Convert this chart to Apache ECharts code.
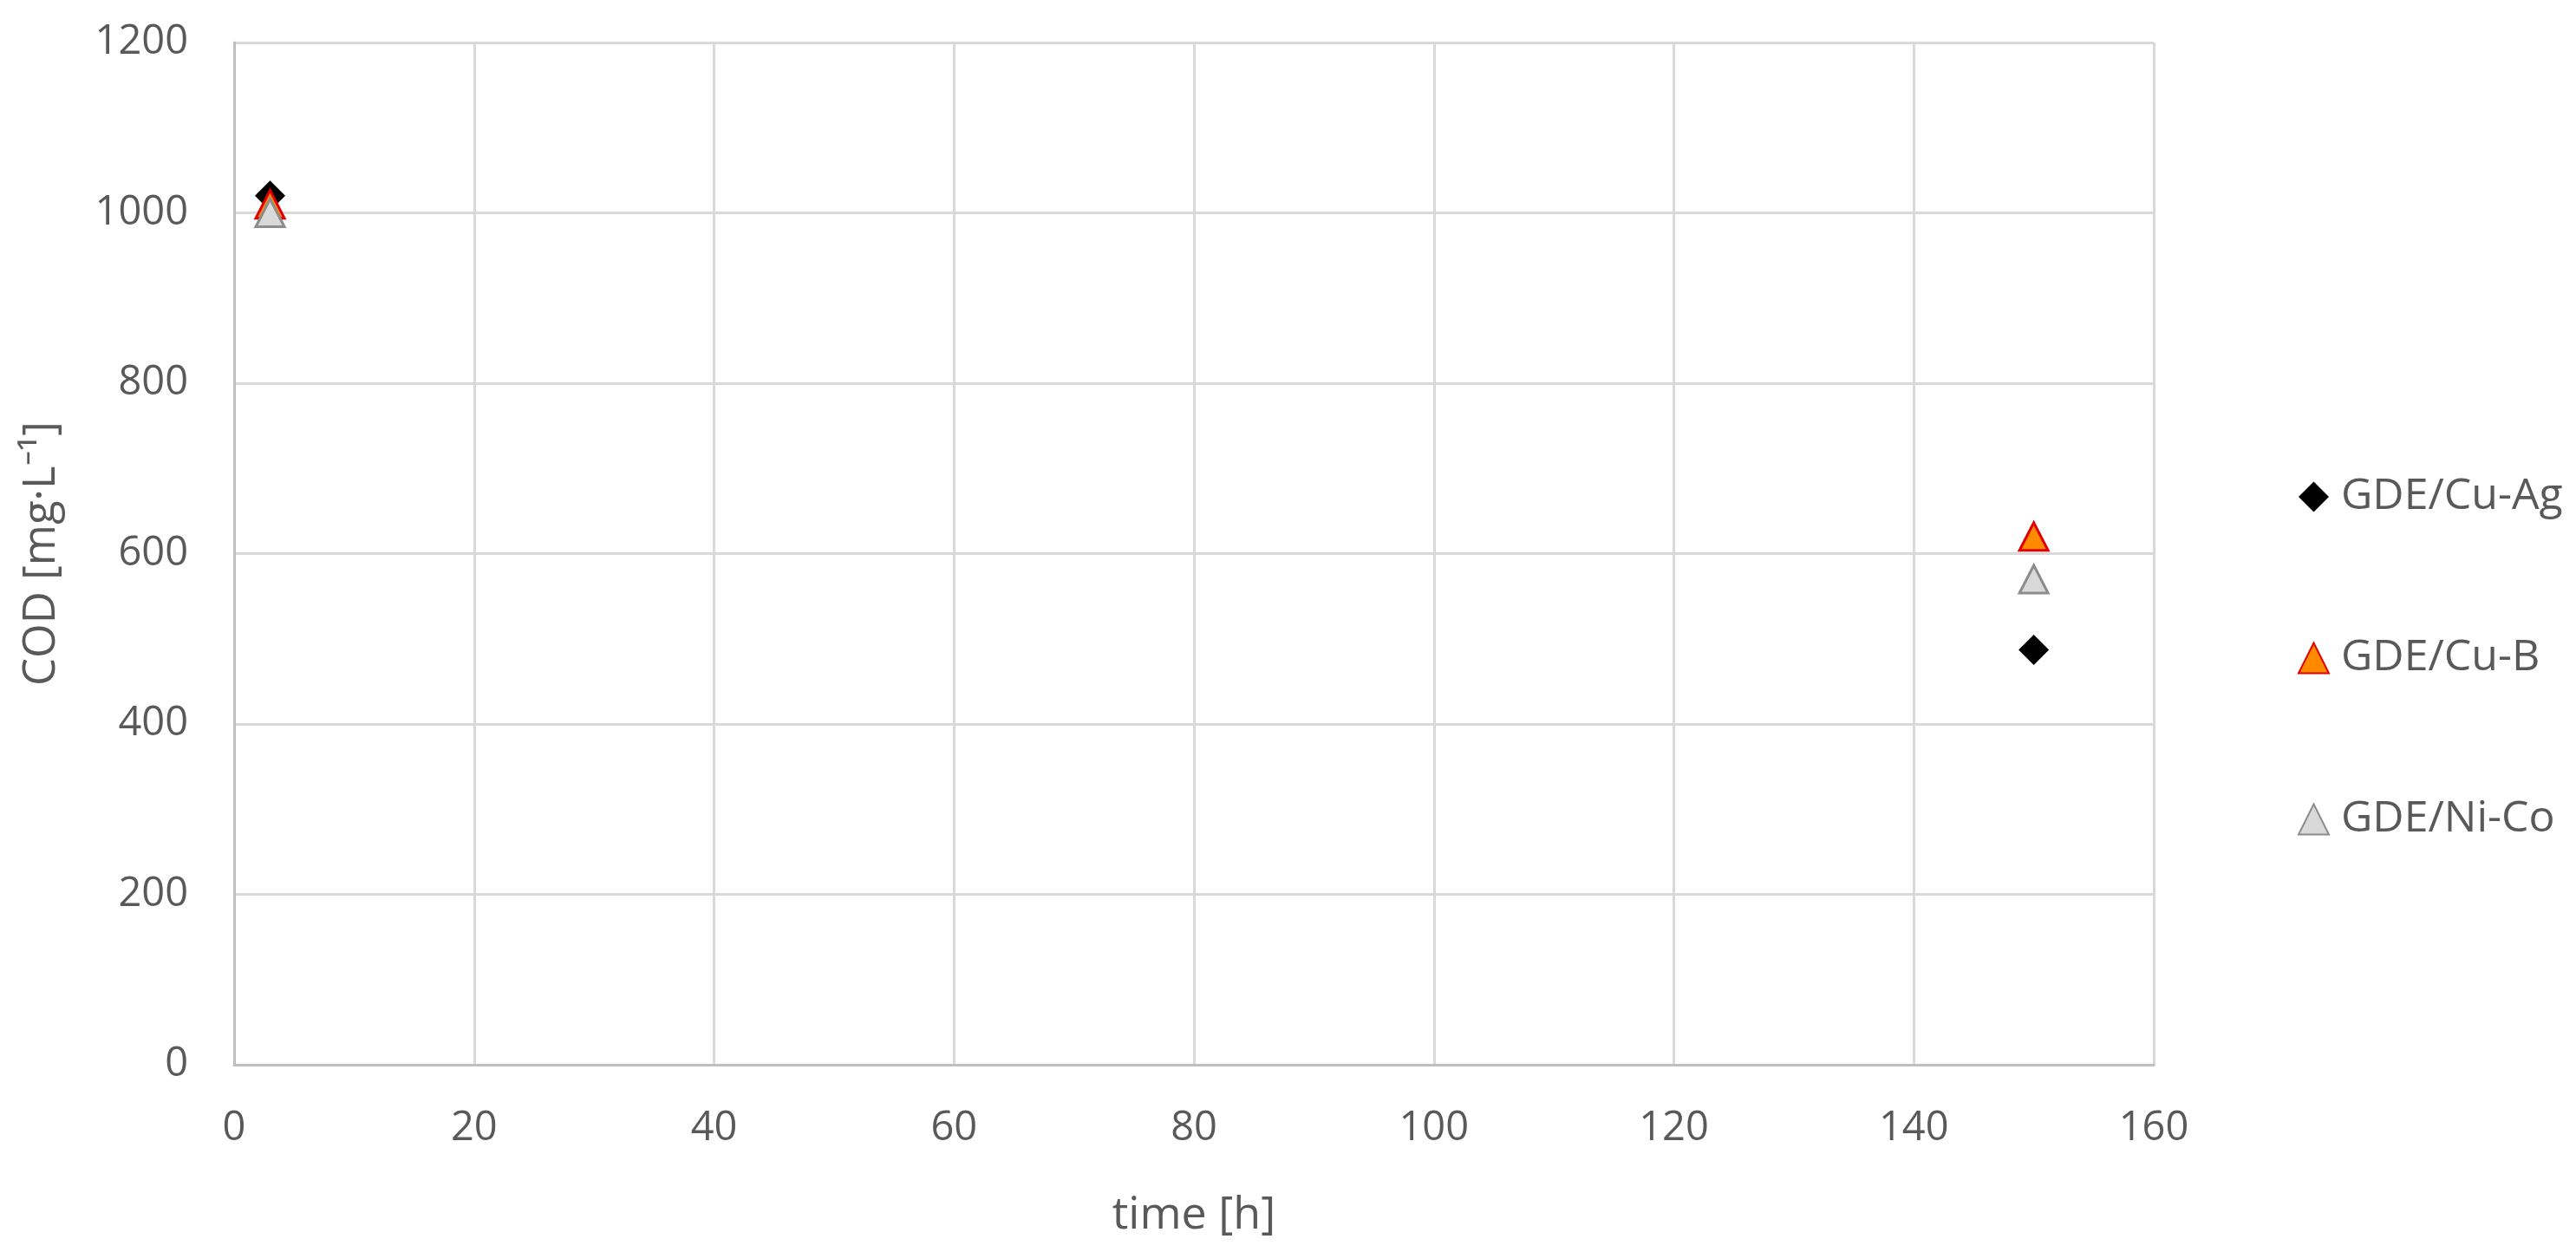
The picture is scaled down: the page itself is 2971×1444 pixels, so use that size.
<!DOCTYPE html>
<html>
<head>
<meta charset="utf-8">
<script src="https://cdn.jsdelivr.net/npm/echarts@6/dist/echarts.min.js"></script>
<style>
  html, body { margin: 0; padding: 0; background: #fff; }
  #main { width: 2971px; height: 1444px; }
</style>
</head>
<body>
<div id="main"></div>
<script>
  // data
  var timeH = [3, 150];
  var cuAg = [1020, 487];
  var cuB = [1010, 620];
  var niCo = [1000, 570];
  var xTicks = [0, 20, 40, 60, 80, 100, 120, 140, 160];
  var yTicks = [0, 200, 400, 600, 800, 1000, 1200];

  function pairs(ys) {
    var out = [];
    for (var i = 0; i < timeH.length; i++) out.push([timeH[i], ys[i]]);
    return out;
  }

  var txt = '#595959';
  var font = 'Open Sans';

  var chart = echarts.init(document.getElementById('main'));
  var option = {
    backgroundColor: '#fff',
    animation: false,
    textStyle: { fontFamily: font },
    grid: { left: 270, right: 487, top: 49, bottom: 216 },
    legend: {
      orient: 'vertical',
      left: 2645,
      top: 542,
      itemWidth: 35,
      itemHeight: 35,
      itemGap: 134,
      textStyle: { fontFamily: font, fontSize: 50, color: txt, lineHeight: 52, padding: [0, 0, 0, 9] },
      data: ['GDE/Cu-Ag', 'GDE/Cu-B', 'GDE/Ni-Co']
    },
    xAxis: {
      type: 'value',
      min: xTicks[0],
      max: xTicks[xTicks.length - 1],
      interval: 20,
      name: 'time [h]',
      nameLocation: 'middle',
      nameGap: 148,
      nameTextStyle: { fontFamily: font, fontSize: 52, color: txt },
      axisLine: { lineStyle: { color: '#bfbfbf', width: 3 } },
      axisTick: { show: false },
      axisLabel: { fontFamily: font, fontSize: 47, color: txt, margin: 50, formatter: function (v) { return String(v); } },
      splitLine: { show: true, lineStyle: { color: '#d9d9d9', width: 3 } }
    },
    yAxis: {
      type: 'value',
      min: yTicks[0],
      max: yTicks[yTicks.length - 1],
      interval: 200,
      name: 'COD [mg·L⁻¹]',
      nameLocation: 'middle',
      nameRotate: 90,
      nameGap: 196,
      nameTextStyle: { fontFamily: font, fontSize: 51, color: txt },
      axisLine: { show: true, lineStyle: { color: '#bfbfbf', width: 3 } },
      axisTick: { show: false },
      axisLabel: { fontFamily: font, fontSize: 47, color: txt, margin: 53, formatter: function (v) { return String(v); } },
      splitLine: { show: true, lineStyle: { color: '#d9d9d9', width: 3 } }
    },
    series: [
      {
        name: 'GDE/Cu-Ag',
        type: 'scatter',
        symbol: 'diamond',
        symbolSize: 35,
        itemStyle: { color: '#000000', opacity: 1 },
        data: pairs(cuAg),
        z: 3
      },
      {
        name: 'GDE/Cu-B',
        type: 'scatter',
        symbol: 'triangle',
        symbolSize: [33, 32],
        itemStyle: { color: '#ff8a00', borderColor: '#e00000', borderWidth: 3, opacity: 1 },
        data: pairs(cuB),
        z: 4
      },
      {
        name: 'GDE/Ni-Co',
        type: 'scatter',
        symbol: 'triangle',
        symbolSize: [33, 32],
        itemStyle: { color: '#d9d9d9', borderColor: '#8c8c8c', borderWidth: 3, opacity: 1 },
        data: pairs(niCo),
        z: 5
      }
    ]
  };
  chart.setOption(option);
</script>
</body>
</html>
